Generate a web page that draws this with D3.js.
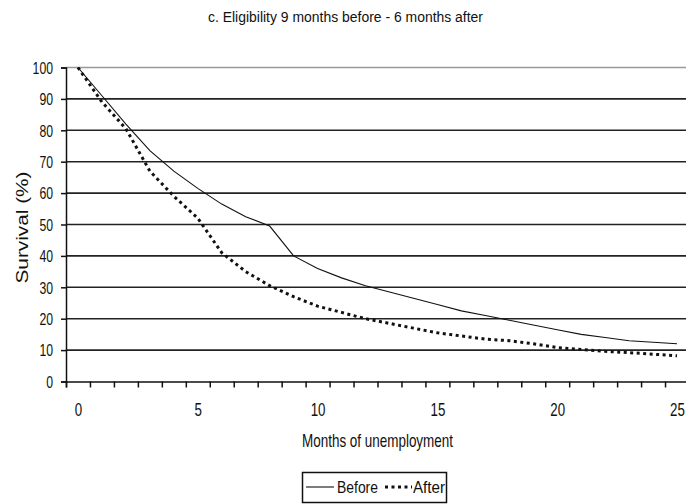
<!DOCTYPE html>
<html>
<head>
<meta charset="utf-8">
<script src="https://cdn.jsdelivr.net/npm/d3@7"></script>
<style>
  body { margin: 0; background: #fff; }
  svg { display: block; }
  text { font-family: "Liberation Sans", Arial, sans-serif; fill: #111; }
</style>
</head>
<body>
<svg id="chart" width="686" height="504"></svg>
<script>
// Months 0..25 (category axis)
const months = d3.range(0, 26);
const before = [100, 91, 82, 73.5, 67, 61.5, 56.5, 52.5, 49.5, 40, 36, 33, 30.5, 28.5, 26.5,
                24.5, 22.5, 21, 19.5, 18, 16.5, 15, 14, 13, 12.5, 12];
const after = [100, 89, 80.5, 67, 59, 52, 41, 35, 30.5, 27, 24, 22, 20, 18.5, 17,
               15.5, 14.5, 13.5, 13, 12, 10.8, 10.2, 9.6, 9.2, 8.7, 8.2];
const yTicks = d3.range(0, 101, 10);
const xLabels = [0, 5, 10, 15, 20, 25];

const svg = d3.select('#chart');

const PLOT_LEFT = 66, PLOT_RIGHT = 689;
const PLOT_TOP = 67.5, PLOT_BOTTOM = 381.5;

const x = d3.scaleLinear().domain([-0.5, 25.5]).range([PLOT_LEFT, PLOT_RIGHT]);
const y = d3.scaleLinear().domain([0, 100]).range([PLOT_BOTTOM, PLOT_TOP]);

// narrow, tall text like the original (squeezed Arial)
function label(sel, size, len) {
    return sel.style('font-size', size + 'px')
        .attr('textLength', len)
        .attr('lengthAdjust', 'spacingAndGlyphs');
}

// Title
label(svg.append('text')
    .attr('x', 345.5).attr('y', 22)
    .attr('text-anchor', 'middle')
    .text('c. Eligibility 9 months before - 6 months after'), 14, 275);

// Gridlines
svg.append('g')
    .selectAll('line')
    .data(yTicks.filter(d => d > 0))
    .join('line')
    .attr('x1', PLOT_LEFT).attr('x2', PLOT_RIGHT)
    .attr('y1', d => y(d)).attr('y2', d => y(d))
    .attr('stroke', d => d === 100 ? '#999' : '#222')
    .attr('stroke-width', 1.6);

// Y axis
const yAxis = svg.append('g')
    .attr('transform', `translate(${PLOT_LEFT},0)`)
    .call(d3.axisLeft(y).tickValues(yTicks).tickSize(5).tickPadding(8));
yAxis.select('.domain').attr('stroke', '#111').attr('stroke-width', 1.5);
yAxis.selectAll('.tick line').attr('stroke', '#111').attr('stroke-width', 1.5);
yAxis.selectAll('text')
    .attr('fill', '#111')
    .style('font-family', '"Liberation Sans", Arial, sans-serif')
    .style('font-size', '16px')
    .attr('dy', '0.36em')
    .attr('textLength', d => String(d).length * 6.8)
    .attr('lengthAdjust', 'spacingAndGlyphs');

// X axis: tick marks between categories
const xAxis = svg.append('g')
    .attr('transform', `translate(0,${PLOT_BOTTOM})`)
    .call(d3.axisBottom(x).tickValues(d3.range(-0.5, 26, 1)).tickSize(6).tickFormat(''));
xAxis.select('.domain').attr('stroke', '#111').attr('stroke-width', 1.5);
xAxis.selectAll('.tick line').attr('stroke', '#111').attr('stroke-width', 1.5);

// X labels at category centres
const xLab = svg.append('g')
    .attr('transform', `translate(0,${PLOT_BOTTOM})`)
    .call(d3.axisBottom(x).tickValues(xLabels).tickSize(0).tickPadding(0));
xLab.select('.domain').remove();
xLab.selectAll('text')
    .attr('fill', '#111')
    .attr('dy', 0).attr('y', 35)
    .attr('transform', 'scale(0.74,1)')
    .style('font-family', '"Liberation Sans", Arial, sans-serif')
    .style('font-size', '18px');

// Axis titles
label(svg.append('text')
    .attr('transform', `translate(28,227.5) rotate(-90)`)
    .attr('text-anchor', 'middle')
    .text('Survival (%)'), 16, 112);

label(svg.append('text')
    .attr('x', 377.5).attr('y', 447)
    .attr('text-anchor', 'middle')
    .text('Months of unemployment'), 19, 151);

// Lines
const line = d3.line().x((d, i) => x(months[i])).y(d => y(d));

svg.append('path')
    .datum(before)
    .attr('d', line)
    .attr('fill', 'none')
    .attr('stroke', '#111')
    .attr('stroke-width', 1.1);

svg.append('path')
    .datum(after)
    .attr('d', line)
    .attr('fill', 'none')
    .attr('stroke', '#111')
    .attr('stroke-width', 3)
    .attr('stroke-dasharray', '3,3.5');

// Legend
const legend = svg.append('g');
legend.append('rect')
    .attr('x', 302.5).attr('y', 472.5)
    .attr('width', 144).attr('height', 30)
    .attr('fill', 'none').attr('stroke', '#111').attr('stroke-width', 1.5);
legend.append('line')
    .attr('x1', 306).attr('x2', 334).attr('y1', 487).attr('y2', 487)
    .attr('stroke', '#111').attr('stroke-width', 1.1);
label(legend.append('text')
    .attr('x', 337).attr('y', 493)
    .text('Before'), 17, 41);
legend.append('line')
    .attr('x1', 385).attr('x2', 412).attr('y1', 487).attr('y2', 487)
    .attr('stroke', '#111').attr('stroke-width', 3)
    .attr('stroke-dasharray', '3,3.5');
label(legend.append('text')
    .attr('x', 413).attr('y', 493)
    .text('After'), 17, 32);
</script>
</body>
</html>
